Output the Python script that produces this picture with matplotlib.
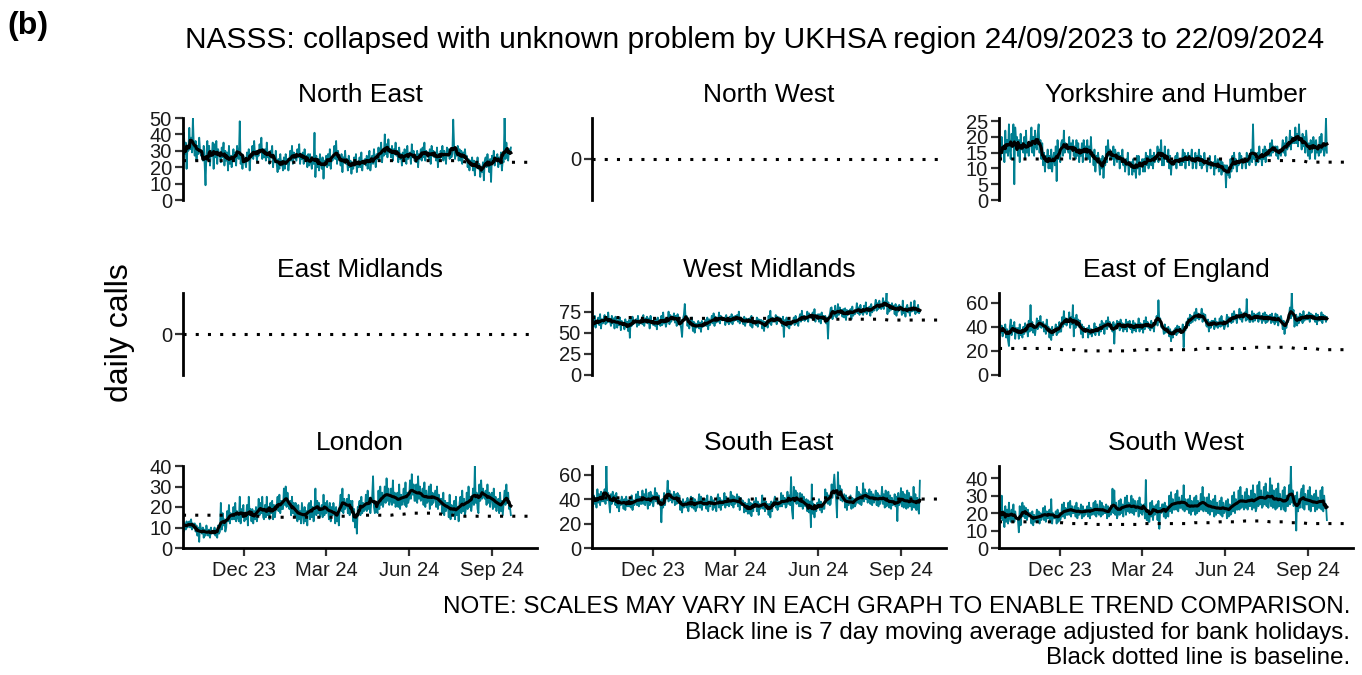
import numpy as np
import pandas as pd
import matplotlib
matplotlib.use("Agg")
import matplotlib.pyplot as plt

plt.rcParams['font.family'] = ['Liberation Sans', 'DejaVu Sans']

TEAL = '#007f91'
start = np.datetime64('2023-09-24')
x_end = np.datetime64('2024-10-21')

regions = ["North East", "North West", "Yorkshire and Humber",
           "East Midlands", "West Midlands", "East of England",
           "London", "South East", "South West"]

ytick_sets = [[0, 10, 20, 30, 40, 50], [0], [0, 5, 10, 15, 20, 25],
              [0], [0, 25, 50, 75], [0, 20, 40, 60],
              [0, 10, 20, 30, 40], [0, 20, 40, 60], [0, 10, 20, 30, 40]]

xtick_dates = ['2023-12-01', '2024-03-01', '2024-06-01', '2024-09-01']
xtick_labels = ['Dec 23', 'Mar 24', 'Jun 24', 'Sep 24']

# daily calls, 24/09/2023 .. 22/09/2024
ne_calls = """
22 41 28 35 19 33 30 44 31 38 29 50 33 27 36 24 33 28 38 30 27 30 24 33 22 9 28 36
25 33 21 30 27 35 19 34 26 36 22 31 28 27 23 32 26 35 21 30 24 29 18 33 22 27 20 26
31 24 29 21 33 26 25 48 22 28 19 27 24 23 20 29 24 31 18 27 26 33 25 36 27 30 24 28
27 34 29 38 25 31 26 31 24 35 26 29 22 30 28 33 20 27 23 30 22 17 25 19 28 21 24 18
26 19 28 22 25 18 23 30 24 33 22 29 26 25 24 31 26 34 22 28 25 29 22 31 25 27 20 28
21 28 23 19 26 22 41 14 27 20 25 18 28 23 19 26 13 24 21 27 20 28 21 31 19 26 24 27
33 25 36 22 30 27 26 21 28 17 26 23 30 22 25 18 27 20 24 16 23 19 26 21 28 17 23 20
26 20 29 18 24 22 25 21 27 19 25 30 18 23 27 22 31 24 20 28 25 32 25 29 35 23 30 27
40 28 34 26 37 29 31 26 33 24 31 28 35 27 30 23 32 25 28 21 29 24 31 26 22 33 25 28
29 22 34 26 30 24 25 23 30 20 28 25 31 24 32 26 35 24 30 27 29 25 31 22 33 27 30 26
29 24 32 20 28 25 30 26 33 24 30 27 22 32 27 31 25 29 26 28 49 32 25 30 27 33 24 31
24 30 22 29 26 31 25 27 20 25 18 24 22 26 18 24 15 23 20 26 19 22 14 20 17 23 12 24
26 20 28 22 17 25 11 27 23 30 21 26 24 28 20 26 22 29 18 24 23 50 25 35 27 24 31 28 32
"""

yh_calls = """
10 18 13 20 15 17 12 22 15 19 14 24 16 13 21 17 24 5 23 19 20 14 19 12 21 16 18 15
20 13 22 15 18 14 17 19 23 15 20 14 22 17 16 21 24 15 19 13 18 11 15 9 14 12 16 10
14 10 16 9 13 15 11 17 6 19 13 16 12 18 19 14 22 15 18 17 16 15 20 13 18 16 19 14
17 13 19 14 18 12 16 14 18 12 19 15 17 13 19 13 17 12 20 14 15 11 16 9 14 13 15 12
8 13 10 14 7 12 11 17 12 19 14 16 13 15 13 17 11 16 14 12 15 15 10 14 12 16 11 13
9 13 11 15 8 12 12 12 8 13 9 11 7 14 10 14 8 12 11 13 9 13 9 15 11 14 10 12
16 11 14 10 15 12 13 13 17 12 16 14 19 11 15 11 17 13 14 12 16 10 14 8 13 11 12 12
14 10 15 12 13 11 13 11 16 12 15 10 14 13 15 11 14 13 16 10 12 12 15 10 14 13 16 11
14 10 13 11 15 12 12 9 13 11 14 10 12 11 12 8 14 10 11 13 9 10 13 8 12 9 11 11
4 11 8 10 7 13 9 14 10 15 11 13 9 12 11 15 12 14 10 13 12 13 10 15 12 14 11 13
16 12 24 13 15 11 12 15 12 17 13 14 11 16 13 17 12 16 14 15 14 18 14 19 15 17 16 17
14 17 13 16 15 14 16 19 15 18 14 20 16 17 17 22 16 20 18 19 18 23 18 21 17 24 19 19
16 21 17 20 15 22 18 14 18 13 19 15 17 20 18 13 19 15 17 14 20 15 21 16 17 14 16 26 15
"""

wm_calls = """
52 66 58 70 56 63 61 68 59 72 55 66 61 67 71 60 68 62 74 63 64 58 70 61 67 55 69 66
56 65 59 68 53 64 61 62 54 66 57 63 52 65 44 67 58 69 60 64 63 66 57 70 59 64 61 65
60 71 58 67 62 69 61 67 55 70 61 64 59 66 58 66 54 68 60 63 58 70 59 74 61 66 57 62
64 75 60 71 63 69 67 73 62 70 58 72 64 68 61 55 45 66 71 84 66 70 58 67 55 65 60 68
52 63 50 61 56 59 64 55 62 51 64 57 60 58 65 58 68 54 66 59 63 70 61 73 58 69 62 67
63 74 61 70 65 68 67 68 59 71 62 66 60 69 62 72 60 69 64 70 65 71 63 75 61 68 66 65
60 69 58 67 62 66 66 67 58 70 56 65 61 64 59 68 57 66 61 65 65 55 64 52 63 58 62 56
70 61 76 59 68 63 65 63 71 60 69 64 68 67 66 58 69 45 65 60 68 57 66 55 64 59 63 62
68 59 70 61 65 58 67 72 63 76 65 70 64 66 66 75 63 73 68 71 67 74 65 78 63 71 67 72
63 72 61 74 66 70 67 70 61 68 43 69 72 79 80 66 76 70 82 68 69 84 71 80 73 77 69 78
68 79 65 77 71 76 75 78 66 81 70 76 72 75 85 73 80 71 83 74 73 71 82 74 86 72 79 75
81 70 84 74 79 76 82 89 76 85 78 88 80 78 80 91 78 87 82 97 72 86 75 83 77 85 79 82
72 84 70 81 75 83 81 80 71 88 73 78 69 80 83 74 79 70 86 75 79 76 88 72 80 74 83 73 76
"""

ee_calls = """
30 44 35 41 32 39 38 42 31 38 29 24 40 46 33 41 36 44 30 39 35 39 30 42 33 37 31 40
34 43 36 40 32 45 36 58 37 44 35 41 33 39 47 38 45 40 49 39 43 44 36 42 34 46 38 40
31 38 29 40 33 37 37 42 33 40 35 44 36 36 48 40 53 42 47 41 44 44 52 39 48 42 58 32
47 39 50 41 46 40 45 34 42 31 40 36 38 38 39 31 41 34 38 32 37 35 43 33 40 36 39 33
42 36 45 38 43 34 42 45 38 48 40 44 39 40 36 44 26 42 38 45 42 44 37 46 39 43 36 42
38 46 36 44 40 45 38 42 35 45 37 43 36 42 39 47 36 43 38 42 35 45 38 48 40 44 39 40
37 45 39 43 36 44 43 49 41 62 44 47 40 39 40 34 42 35 39 36 40 32 38 28 36 31 37 36
39 33 41 35 40 36 35 36 42 23 40 37 44 44 47 41 50 43 49 44 48 52 45 55 47 51 46 47
49 55 44 51 46 50 41 40 46 36 44 39 45 44 45 38 47 40 44 39 41 47 40 49 41 45 38 41
43 50 40 48 44 47 43 51 44 53 46 50 43 49 48 55 46 52 44 50 48 52 45 63 46 49 44 44
46 53 44 51 45 50 47 51 44 52 46 49 43 51 45 52 43 50 44 49 46 50 43 51 44 48 42 51
44 50 41 48 45 49 45 38 45 34 43 39 44 44 50 56 47 68 49 54 40 44 50 41 48 43 51 45
50 43 53 45 49 46 50 46 52 44 51 47 50 46 49 44 51 42 50 45 48 45 52 43 50 46 49 44 48
"""

ld_calls = """
14 8 12 9 13 10 11 13 10 14 9 12 11 12 8 11 6 10 3 12 9 7 10 5 9 6 11 8
6 9 5 10 7 8 7 10 6 9 5 11 7 8 22 9 17 11 14 8 10 18 13 21 12 17 14 14
20 14 22 13 18 15 13 25 12 19 15 21 13 14 14 21 11 25 16 19 13 19 12 18 14 20 13 16
24 16 22 17 25 15 14 21 15 25 16 20 14 22 17 23 14 21 15 19 21 25 18 26 17 23 19 19
29 21 30 20 27 22 19 23 16 25 17 22 15 22 19 13 21 14 18 12 22 17 12 20 13 18 11 21
22 14 23 15 20 13 19 29 16 23 17 22 15 18 21 15 26 16 22 17 23 19 14 22 13 20 16 22
18 12 20 13 17 11 21 26 18 29 17 24 19 21 24 17 26 16 23 18 23 13 19 10 16 7 20 20
23 16 25 17 22 18 19 26 18 28 19 24 17 22 25 35 20 17 22 18 17 28 19 30 21 27 20 23
30 22 34 23 29 21 23 29 21 33 22 27 20 23 27 20 31 19 26 21 24 29 21 32 20 27 22 24
33 24 36 26 31 23 23 31 22 35 24 30 23 24 29 21 32 20 28 22 23 30 19 31 21 27 22 25
28 20 30 19 26 21 24 24 17 27 16 23 18 22 22 15 26 14 21 16 19 23 14 25 16 20 13 22
25 17 28 18 24 16 19 27 19 30 20 25 18 22 29 21 40 22 27 19 17 31 23 33 24 29 25 24
28 21 31 22 27 20 26 27 19 29 20 25 18 23 24 17 27 18 23 16 22 28 21 31 22 27 19 20 16
"""

se_calls = """
45 34 43 36 41 33 48 37 44 35 46 38 42 38 48 36 67 39 45 37 29 44 36 46 38 43 35 45
33 41 30 39 35 42 39 32 40 31 42 34 39 34 41 33 43 31 39 35 37 44 35 46 34 42 36 36
47 36 44 35 48 38 32 45 35 46 37 43 34 40 49 38 45 36 43 37 39 21 40 33 45 35 42 43
55 38 47 39 44 37 41 46 35 44 36 45 38 43 31 38 29 40 33 36 38 33 41 30 39 34 42 33
41 32 40 30 38 33 38 44 33 42 31 39 35 35 40 32 43 30 38 34 42 41 31 39 33 37 30 41
44 33 41 31 39 35 36 45 33 42 35 40 34 37 46 35 43 33 42 36 38 44 34 42 31 41 35 39
38 29 37 30 36 28 40 28 37 26 36 30 38 36 41 30 38 27 36 32 34 43 32 40 30 38 33 36
27 36 25 38 30 37 38 42 33 40 31 38 34 34 45 34 43 36 41 33 34 46 36 43 35 58 31 24
50 38 47 36 45 37 34 45 34 44 32 42 35 34 40 30 39 29 38 17 52 28 36 25 35 30 37 33
40 31 38 29 36 32 32 48 37 45 36 43 35 36 52 41 50 60 47 40 25 62 43 51 39 48 38 41
44 33 43 31 41 35 39 43 32 41 33 40 34 36 50 37 46 36 44 35 39 53 38 48 40 45 37 40
48 36 46 35 44 37 41 47 35 45 34 43 36 40 50 36 44 33 47 34 36 46 33 43 32 41 35 36
44 34 42 22 45 35 37 49 34 46 33 44 35 32 47 33 45 34 42 31 34 50 33 44 31 41 32 28 55
"""

sw_calls = """
14 23 17 30 16 21 12 24 15 22 14 26 17 15 22 16 25 15 21 17 17 16 9 24 13 20 26 18
24 17 23 16 22 18 20 20 14 21 13 19 15 17 22 15 21 14 20 16 18 23 16 24 15 21 17 17
22 15 28 14 20 17 17 21 14 22 15 20 16 18 25 18 26 17 23 19 19 26 19 27 18 24 20 20
24 18 26 17 23 19 20 25 17 24 18 22 19 22 24 18 26 17 23 19 20 26 19 27 18 25 20 19
27 18 26 19 24 20 20 25 17 24 18 23 19 21 34 20 33 19 26 17 19 27 19 28 20 25 18 24
29 19 30 21 26 20 23 30 20 28 19 27 21 23 27 18 29 20 25 19 23 25 17 39 16 20 15 15
26 18 27 16 24 19 24 25 16 27 11 23 20 25 25 18 26 17 24 19 18 30 21 32 20 28 22 22
31 22 33 21 29 23 23 30 22 36 21 28 23 22 28 20 30 19 27 21 23 29 19 30 20 27 21 22
31 22 35 21 29 23 21 29 20 31 19 27 21 21 28 18 30 19 26 20 20 27 19 29 18 26 20 22
27 17 28 18 25 19 20 30 21 32 20 28 22 22 33 22 35 23 30 24 22 32 23 34 22 30 24 24
33 22 36 23 31 21 23 36 24 38 25 33 23 24 35 25 37 24 32 23 27 40 24 36 23 33 25 22
34 23 37 24 31 22 25 33 22 35 21 30 24 24 36 25 47 26 33 24 26 30 10 32 21 28 23 31
34 23 36 22 31 25 25 33 22 35 21 30 24 24 31 21 33 22 29 23 23 33 22 35 21 30 23 25 16
"""

# weekly baseline, from 24/09/2023
ne_base = """24 24 24 24 24 24 24 24 24 24 24 23 23 23 23 22 22 23 23 24 24 24 24 24 24 24 24 24
24 24 24 24 24 24 24 24 24 24 24 24 24 24 24 24 24 23 23 23 23 23 23 23 23 23 23 23 23"""
nw_base = " ".join(["0"] * 57)
yh_base = """13 13 13 13 13 13 13 13 13 13 13 13 13 13 13 13 13 13 13 13 13 13 13 13 13 13 13 13
13 13 13 13 13 13 13 13 13 13 13 13 13 12.5 12.5 12.5 12.5 12.5 12.5 12.5 12.5 12 12 12 12 12 12 12 12"""
em_base = " ".join(["0"] * 57)
wm_base = """68 68 68 68 68 68 68 68 67 67 67 67 67 67 67 67 67 67 67 67 67 67 67 67 67 67 67 67
67 67 67 67 67 66 66 66 66 66 66 66 66 66 66 66 66 66 66 65 65 65 65 65 65 65 65 65 65"""
ee_base = """22 22 22 22 22 22 22 22 22 22 21 21 21 20 20 20 20 20 20 20 20 20 21 21 21 21 21 21
21 21 21 21 22 22 22 22 22 22 22 22 23 23 23 23 23 23 23 22 22 22 22 21 21 21 21 21 21"""
ld_base = """16 16 16 16 16 16 16 16 16 16 16 15.5 15.5 15.5 15 15 15 15 15 15 15 15 15 15 15 15.5 15.5 15.5
16 16 16 16 16 16 16.5 16.5 17 17 17 17 17 16.5 16 16 15.5 15.5 15.5 15.5 15.5 15.5 15.5 15.5 15.5 15.5 15.5 15.5 15.5"""
se_base = """41 41 41 41 41 41 41 41 41 41 41 41 41 41 40 40 40 40 40 40 40 40 40 40 40 40 40 40
40 40 40 40 40 40 40 40 41 41 41 41 41 41 41 41 41 40 40 40 40 40 40 40 40 40 40 40 40"""
sw_base = """15 15 15 15 15 15 15 15 15 14.5 14.5 14 14 14 14 13.5 13.5 13.5 13.5 13.5 13.5 13.5 13.5 14 14 14 14 14
14 14 14 14.5 14.5 14.5 14.5 15 15 15 15 15.5 15.5 15.5 15.5 15 15 15 14.5 14.5 14.5 14 14 14 14 14 14 14 14"""

daily = [ne_calls, None, yh_calls, None, wm_calls, ee_calls, ld_calls, se_calls, sw_calls]
baselines = [ne_base, nw_base, yh_base, em_base, wm_base, ee_base, ld_base, se_base, sw_base]


def parse(s):
    return np.array(s.split(), dtype=float)


W, H = 1362, 675
fig = plt.figure(figsize=(W / 100, H / 100), dpi=100)
col_left = [183, 592, 999]
row_bottom = [200, 375, 548]
pw, ph = 354, 82

for i, name in enumerate(regions):
    r, c = divmod(i, 3)
    ax = fig.add_axes([col_left[c] / W, 1 - row_bottom[r] / H, pw / W, ph / H])
    base = parse(baselines[i])
    bdates = start + np.arange(len(base)).astype('timedelta64[D]') * 7

    if daily[i] is not None:
        v = parse(daily[i])
        d = start + np.arange(len(v)).astype('timedelta64[D]')
        ax.plot(d, v, color=TEAL, lw=1.3, zorder=2)
        ax.plot(bdates, base, color='black', lw=2.2, linestyle=(0, (1, 3)), zorder=3)
        ma = pd.Series(v).rolling(7, center=True, min_periods=1).mean()
        ax.plot(d, ma, color='black', lw=2.2, zorder=4)
        ax.set_ylim(0, v.max())
    else:
        ax.plot(bdates, base, color='black', lw=2.2, linestyle=(0, (1, 3)), zorder=3)
        ax.set_ylim(-1, 1)

    ax.set_xlim(start, x_end)
    ax.set_yticks(ytick_sets[i])
    ax.tick_params(axis='y', length=6, width=1.6, color='#333333',
                   labelsize=14.5, pad=2, labelcolor='#1a1a1a')
    for s in ['top', 'right']:
        ax.spines[s].set_visible(False)
    ax.spines['left'].set_linewidth(2.0)
    ax.patch.set_alpha(0)

    if r < 2:
        ax.spines['bottom'].set_visible(False)
        ax.tick_params(axis='x', bottom=False, labelbottom=False)
    else:
        ax.spines['bottom'].set_linewidth(2.0)
        ax.set_xticks([np.datetime64(t) for t in xtick_dates])
        ax.set_xticklabels(xtick_labels)
        ax.tick_params(axis='x', length=6, width=1.6, color='#333333',
                       labelsize=14.5, pad=3, labelcolor='#1a1a1a')

    title_y = [95, 270, 443][r]
    fig.text((col_left[c] + pw / 2) / W, 1 - title_y / H, name,
             ha='center', va='center', fontsize=19)

fig.text(755 / W, 1 - 40 / H,
         "NASSS: collapsed with unknown problem by UKHSA region 24/09/2023 to 22/09/2024",
         ha='center', va='center', fontsize=21.5)
fig.text(7 / W, 1 - 26 / H, "(b)", ha='left', va='center', fontsize=23, fontweight='bold')
fig.text(120 / W, 1 - 333 / H, "daily calls", ha='center', va='center',
         rotation=90, fontsize=23)

notes = ["NOTE: SCALES MAY VARY IN EACH GRAPH TO ENABLE TREND COMPARISON.",
         "Black line is 7 day moving average adjusted for bank holidays.",
         "Black dotted line is baseline."]
for k, t in enumerate(notes):
    fig.text(1350 / W, 1 - [607, 633, 658][k] / H, t, ha='right', va='center', fontsize=17.4)

fig.savefig("out.png", dpi=100)
